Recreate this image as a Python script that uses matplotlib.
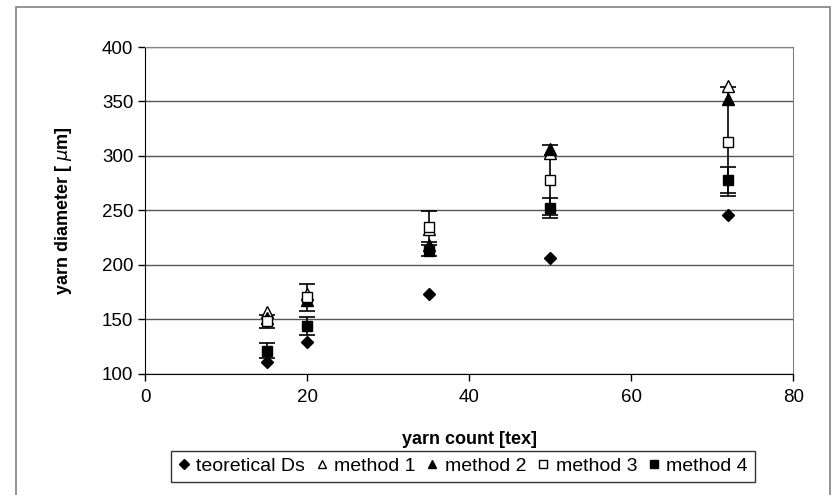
import matplotlib
matplotlib.use("Agg")
import matplotlib.pyplot as plt
from matplotlib.patches import Rectangle

plt.rcParams['font.family'] = ['Liberation Sans', 'DejaVu Sans']

# yarn count [tex]
tex = [15, 20, 35, 50, 72]

# yarn diameter [um]
theoretical = [111, 129, 173, 206, 246]
method1 = [157, 173, 233, 303, 364]
method2 = [151, 168, 218, 306, 352]
method3 = [148, 170, 235, 278, 313]
method4 = [121, 144, 213, 252, 278]

# error bars (+/-)
err3 = [6, 12, 14, 32, 50]
err4 = [7, 8, 5, 9, 12]

fig = plt.figure(figsize=(8.34, 4.95), dpi=100)
ax = fig.add_axes([0.174, 0.245, 0.777, 0.660])

fig.patches.append(Rectangle((0.019, -0.01), 0.976, 0.996, transform=fig.transFigure,
                             fill=False, edgecolor='#808080', linewidth=1.2))

ax.errorbar(tex, method3, yerr=err3, fmt='none', ecolor='black', elinewidth=1.2,
            capsize=6, capthick=1.2, zorder=3)
ax.errorbar(tex, method4, yerr=err4, fmt='none', ecolor='black', elinewidth=1.2,
            capsize=6, capthick=1.2, zorder=3)

ax.plot(tex, theoretical, 'D', color='black', ms=6.5, ls='none', label='teoretical Ds', zorder=4)
ax.plot(tex, method1, '^', mfc='white', mec='black', ms=8, ls='none', label='method 1', zorder=4)
ax.plot(tex, method2, '^', color='black', ms=8, ls='none', label='method 2', zorder=4)
ax.plot(tex, method3, 's', mfc='white', mec='black', ms=7, ls='none', label='method 3', zorder=4)
ax.plot(tex, method4, 's', color='black', ms=7, ls='none', label='method 4', zorder=4)

ax.set_xlim(0, 80)
ax.set_ylim(100, 400)
ax.set_xticks([0, 20, 40, 60, 80])
ax.set_yticks(range(100, 401, 50))
ax.yaxis.grid(True, color='#555555', linewidth=1)
ax.set_axisbelow(True)
ax.tick_params(labelsize=13.5, direction='out', length=5, width=1)
ax.tick_params(axis='x', pad=6)

ax.spines['left'].set_color('black')
ax.spines['bottom'].set_color('black')
ax.spines['top'].set_color('#808080')
ax.spines['right'].set_color('#808080')

ax.set_xlabel('yarn count [tex]', fontsize=13, fontweight='bold', labelpad=18)
ax.set_ylabel('yarn diameter [ $\\mu$m]', fontsize=13, fontweight='bold', labelpad=20)

leg = fig.legend(loc='center', bbox_to_anchor=(0.555, 0.058), ncol=5, fontsize=14,
                 frameon=True, fancybox=False, handlelength=0.6, handletextpad=0.35,
                 columnspacing=0.55, borderpad=0.35, markerscale=0.75)
leg.get_frame().set_edgecolor('black')
leg.get_frame().set_linewidth(1)

fig.savefig('out.png', dpi=100)
